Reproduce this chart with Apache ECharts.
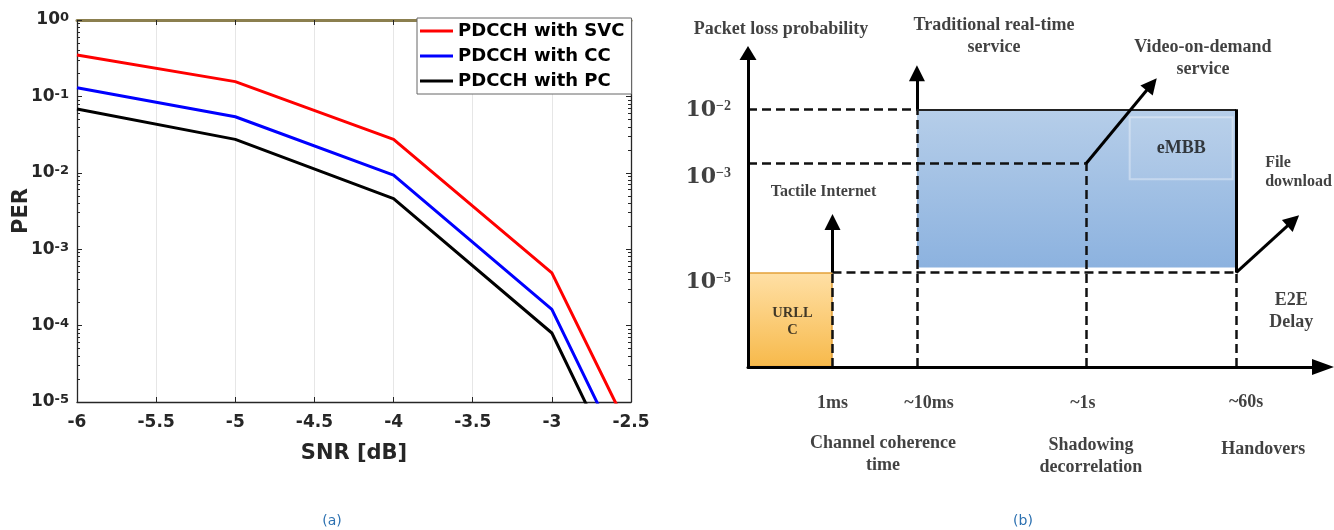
<!DOCTYPE html>
<html><head><meta charset="utf-8">
<script src="https://cdn.jsdelivr.net/npm/echarts@6/dist/echarts.min.js"></script>
<style>html,body{margin:0;padding:0;background:#fff}#c{width:1334px;height:530px}</style>
</head><body><div id="c"></div>
<script>
// ---------- Panel (a): PER vs SNR ----------
const snrDb = [-6, -5, -4, -3, -2.5];
const perSVC = [0.348, 0.156, 0.0274, 4.9e-4, 3.8e-6];
const perCC  = [0.130, 0.0542, 0.0093, 1.63e-4, 1.2e-6];
const perPC  = [0.0684, 0.0274, 0.00458, 8.0e-5, 5.7e-7];
const seriesNames = ['PDCCH with SVC', 'PDCCH with CC', 'PDCCH with PC'];
const seriesColors = ['#ff0000', '#0000ff', '#000000'];

// ---------- Panel (b): service requirements diagram ----------
const delayLabels = ['1ms', '~10ms', '~1s', '~60s'];
const delaySec    = [0.001, 0.01, 1, 60];
const delayCauses = ['', 'Channel coherence\ntime', 'Shadowing\ndecorrelation', 'Handovers'];
const lossExp     = [-2, -3, -5];
const lossLevels  = [1e-2, 1e-3, 1e-5];
const serviceNames = ['Tactile Internet', 'Traditional real-time\nservice', 'Video-on-demand\nservice', 'File\ndownload'];
const regionNames  = ['URLL\nC', 'eMBB'];
const axisTitlesB  = ['Packet loss probability', 'E2E\nDelay'];

const chart = echarts.init(document.getElementById('c'), null, {renderer: 'canvas'});

const sans = 'DejaVu Sans';
const tickCol = '#262626';
const supFmt = v => '{b|10}{s|' + Math.round(Math.log10(v)) + '}';
const richA = {
  b: {fontFamily: sans, fontWeight: 'bold', fontSize: 17, lineHeight: 17, color: tickCol, verticalAlign: 'bottom', padding: [8, 0, 0, 0]},
  s: {fontFamily: sans, fontWeight: 'bold', fontSize: 13, lineHeight: 13, color: tickCol, verticalAlign: 'top'}
};

// axis bounds of the diagram frame (b)
const BX0 = 1e-4, BX1 = 640, BY0 = 1.84e-7, BY1 = 0.108;
const [d1ms, d10ms, d1s, d60s] = delaySec;
const [l2, l3, l5] = lossLevels;

const dashedSegs = [
  [[BX0, l2], [d10ms, l2]],
  [[BX0, l3], [d1s, l3]],
  [[d1ms, l5], [d60s, l5]],
  [[d1ms, BY0], [d1ms, l5]],
  [[d10ms, BY0], [d10ms, l2]],
  [[d1s, BY0], [d1s, l3]],
  [[d60s, BY0], [d60s, l5]]
];
const borderSegs = [
  {coords: [[d10ms, l2], [d60s, l2]], lineStyle: {width: 2, color: '#222', opacity: 1}},
  {coords: [[d60s, l5], [d60s, l2]], lineStyle: {width: 3, color: '#000', opacity: 1}}
];
const arrowSegs = [
  [[d1ms, l5], [d1ms, 8.5e-5]],
  [[d10ms, l2], [d10ms, 0.046]],
  [[d1s, l3], [6.0, 0.0287]],
  [[d60s, l5], [284, 9.0e-5]]
];

const serif = {fontFamily: 'Liberation Serif', fontWeight: 'bold', color: '#111'};
function lab(pt, text, off, fs, extra) {
  return {value: pt, label: Object.assign({show: true, position: 'inside', formatter: text, offset: off,
    fontSize: fs, lineHeight: Math.round(fs * 1.2), align: 'center', verticalAlign: 'middle'}, serif, extra || {})};
}
const tickOffsets = [[0, 36], [12, 36], [-3, 36], [10, 35]];
const causeOffsets = [null, [-34, 87.5], [5, 89.5], [27, 82]];
const lossOffsets = [[-17, 1], [-17, 14], [-17, 10]];
const labelItems = [
  lab([BX0, BY1], axisTitlesB[0], [33, -24], 18),
  lab([d10ms, l2], serviceNames[1], [77, -73], 18, {lineHeight: 22}),
  lab([d1s, l3], serviceNames[2], [117, -105], 18, {lineHeight: 22}),
  lab([d1ms, l5], serviceNames[0], [-9, -81], 16),
  lab([d60s, l5], serviceNames[3], [29, -100], 16, {lineHeight: 19, align: 'left'}),
  lab([d60s, l5], axisTitlesB[1], [55, 38.5], 18, {lineHeight: 22}),
  lab([d1ms, l5], regionNames[0], [-40, 49], 14.5, {lineHeight: 17}),
  lab([d60s, l2], regionNames[1], [-55, 39], 18, {width: 103, height: 62, lineHeight: 62,
     backgroundColor: 'rgba(255,255,255,0.08)', borderColor: 'rgba(255,255,255,0.45)', borderWidth: 1})
];
delayLabels.forEach((t, i) => labelItems.push(lab([delaySec[i], BY0], t, tickOffsets[i], 18)));
delayCauses.forEach((t, i) => { if (t) labelItems.push(lab([delaySec[i], BY0], t, causeOffsets[i], 18, {lineHeight: 22})); });
lossLevels.forEach((v, i) => labelItems.push({value: [BX0, v], label: {show: true, position: 'inside', align: 'right', verticalAlign: 'middle',
  offset: lossOffsets[i], formatter: '{n|10}{s|\u2212' + Math.abs(lossExp[i]) + '}',
  rich: {
    n: {fontFamily: 'DejaVu Serif', fontWeight: 'bold', fontSize: 22, lineHeight: 22, color: '#111', verticalAlign: 'bottom', padding: [2, 0, 0, 0]},
    s: {fontFamily: 'Liberation Serif', fontWeight: 'bold', fontSize: 14, lineHeight: 14, color: '#111', verticalAlign: 'top'}
  }}}));

const orangeGrad = new echarts.graphic.LinearGradient(0, 0, 0, 1, [{offset: 0, color: '#ffe0a6'}, {offset: 1, color: '#f7b94a'}]);
const blueGrad = new echarts.graphic.LinearGradient(0, 0, 0, 1, [{offset: 0, color: '#b6cee9'}, {offset: 1, color: '#8cb2df'}]);

const noAxisBits = {axisTick: {show: false}, axisLabel: {show: false}, splitLine: {show: false}, minorTick: {show: false}};

const option = {
  animation: false,
  textStyle: {fontFamily: sans},
  grid: [
    {left: 77, top: 20, width: 554, height: 382, outerBoundsMode: 'none', containLabel: false},
    {left: 748, top: 53, width: 575, height: 314, outerBoundsMode: 'none', containLabel: false}
  ],
  legend: {
    data: seriesNames, left: 417, top: 18, orient: 'vertical', icon: 'rect', itemWidth: 33, itemHeight: 3,
    itemGap: 5, padding: [3, 7, 3, 3], backgroundColor: '#fff', borderColor: '#666', borderWidth: 1,
    selectedMode: false,
    textStyle: {fontFamily: sans, fontWeight: 'bold', fontSize: 18, color: '#000', lineHeight: 20}
  },
  xAxis: [
    {gridIndex: 0, type: 'value', position: 'bottom', min: -6, max: -2.5, interval: 0.5,
     axisLine: {show: true, onZero: false, lineStyle: {color: tickCol, width: 1.3}},
     axisTick: {show: true, inside: true, length: 5, lineStyle: {color: tickCol}},
     axisLabel: {margin: 12, color: tickCol, fontFamily: sans, fontWeight: 'bold', fontSize: 17, showMinLabel: true, showMaxLabel: true},
     splitLine: {show: true, lineStyle: {color: '#e6e6e6', width: 1}},
     name: 'SNR [dB]', nameLocation: 'middle', nameGap: 41, nameMoveOverlap: false,
     nameTextStyle: {fontFamily: sans, fontWeight: 'bold', fontSize: 21, color: tickCol}},
    {gridIndex: 0, type: 'value', position: 'top', min: -6, max: -2.5, interval: 0.5,
     axisLine: {show: true, onZero: false, lineStyle: {color: '#8b7f4f', width: 3}},
     axisTick: {show: true, inside: true, length: 5, lineStyle: {color: tickCol}},
     axisLabel: {show: false}, splitLine: {show: false}},
    Object.assign({gridIndex: 1, type: 'log', logBase: 10, min: BX0, max: BX1, z: 10,
     axisLine: {show: true, onZero: false, symbol: ['none', 'triangle'], symbolSize: [16, 22], lineStyle: {color: '#000', width: 3}}}, noAxisBits)
  ],
  yAxis: [
    {gridIndex: 0, type: 'log', logBase: 10, min: 1e-5, max: 1, position: 'left',
     axisLine: {show: true, onZero: false, lineStyle: {color: tickCol, width: 1.3}},
     axisTick: {show: true, inside: true, length: 5, lineStyle: {color: tickCol}},
     minorTick: {show: true, splitNumber: 9, length: 3, lineStyle: {color: tickCol}},
     axisLabel: {margin: 8, formatter: supFmt, rich: richA},
     splitLine: {show: false},
     name: 'PER', nameLocation: 'middle', nameRotate: 90, nameGap: 45, nameMoveOverlap: false,
     nameTextStyle: {fontFamily: sans, fontWeight: 'bold', fontSize: 21, color: tickCol}},
    {gridIndex: 0, type: 'log', logBase: 10, min: 1e-5, max: 1, position: 'right',
     axisLine: {show: true, onZero: false, lineStyle: {color: tickCol, width: 1.3}},
     axisTick: {show: true, inside: true, length: 5, lineStyle: {color: tickCol}},
     minorTick: {show: true, splitNumber: 9, length: 3, lineStyle: {color: tickCol}},
     axisLabel: {show: false}, splitLine: {show: false}},
    Object.assign({gridIndex: 1, type: 'log', logBase: 10, min: BY0, max: BY1, z: 10,
     axisLine: {show: true, onZero: false, symbol: ['none', 'triangle'], symbolSize: [17, 14], lineStyle: {color: '#000', width: 3}}}, noAxisBits)
  ],
  series: [
    ...[perSVC, perCC, perPC].map((arr, i) => ({
      type: 'line', name: seriesNames[i], xAxisIndex: 0, yAxisIndex: 0,
      data: snrDb.map((x, j) => [x, arr[j]]), showSymbol: false, symbol: 'none', clip: true,
      color: seriesColors[i], itemStyle: {color: seriesColors[i]},
      lineStyle: {width: 3, color: seriesColors[i]}, emphasis: {disabled: true}, z: 3 - i
    })),
    {type: 'custom', xAxisIndex: 2, yAxisIndex: 2, silent: true, z: 1, clip: false,
     data: [[BX0, BY0, d1ms, l5, 0], [d10ms, l5, d60s, l2, 1]],
     renderItem: function (params, api) {
       const a = api.coord([api.value(0), api.value(1)]);
       const b = api.coord([api.value(2), api.value(3)]);
       const x = Math.min(a[0], b[0]), y = Math.min(a[1], b[1]);
       const w = Math.abs(b[0] - a[0]), h = Math.abs(b[1] - a[1]);
       if (api.value(4) === 0) {
         return {type: 'rect', shape: {x: x + 1, y: y + 0.5, width: w - 1.5, height: h - 1}, style: {fill: orangeGrad, stroke: '#e3a13a', lineWidth: 1.5}};
       }
       return {type: 'rect', shape: {x: x, y: y, width: w, height: h - 5}, style: {fill: blueGrad}};
     }},
    {type: 'lines', coordinateSystem: 'cartesian2d', xAxisIndex: 2, yAxisIndex: 2, silent: true, z: 3,
     data: dashedSegs.map(c => ({coords: c})), symbol: 'none',
     lineStyle: {color: '#111', width: 2.5, type: [9, 5], opacity: 1}},
    {type: 'lines', coordinateSystem: 'cartesian2d', xAxisIndex: 2, yAxisIndex: 2, silent: true, z: 4,
     data: borderSegs, symbol: 'none', lineStyle: {opacity: 1}},
    {type: 'lines', coordinateSystem: 'cartesian2d', xAxisIndex: 2, yAxisIndex: 2, silent: true, z: 4,
     data: arrowSegs.map(c => ({coords: c})), symbol: ['none', 'triangle'], symbolSize: [15, 16],
     lineStyle: {color: '#000', width: 3, opacity: 1}},
    {type: 'scatter', xAxisIndex: 2, yAxisIndex: 2, silent: true, z: 6, clip: false,
     symbolSize: 1, itemStyle: {color: 'rgba(0,0,0,0)'}, data: labelItems}
  ],
  graphic: [
    {type: 'text', x: 332, y: 521, silent: true, style: {text: '(a)', fill: '#2b70b0', font: '14px "DejaVu Sans"', align: 'center', verticalAlign: 'middle'}},
    {type: 'text', x: 1023, y: 521, silent: true, style: {text: '(b)', fill: '#2b70b0', font: '14px "DejaVu Sans"', align: 'center', verticalAlign: 'middle'}}
  ]
};
chart.setOption(option);
</script>
</body></html>
